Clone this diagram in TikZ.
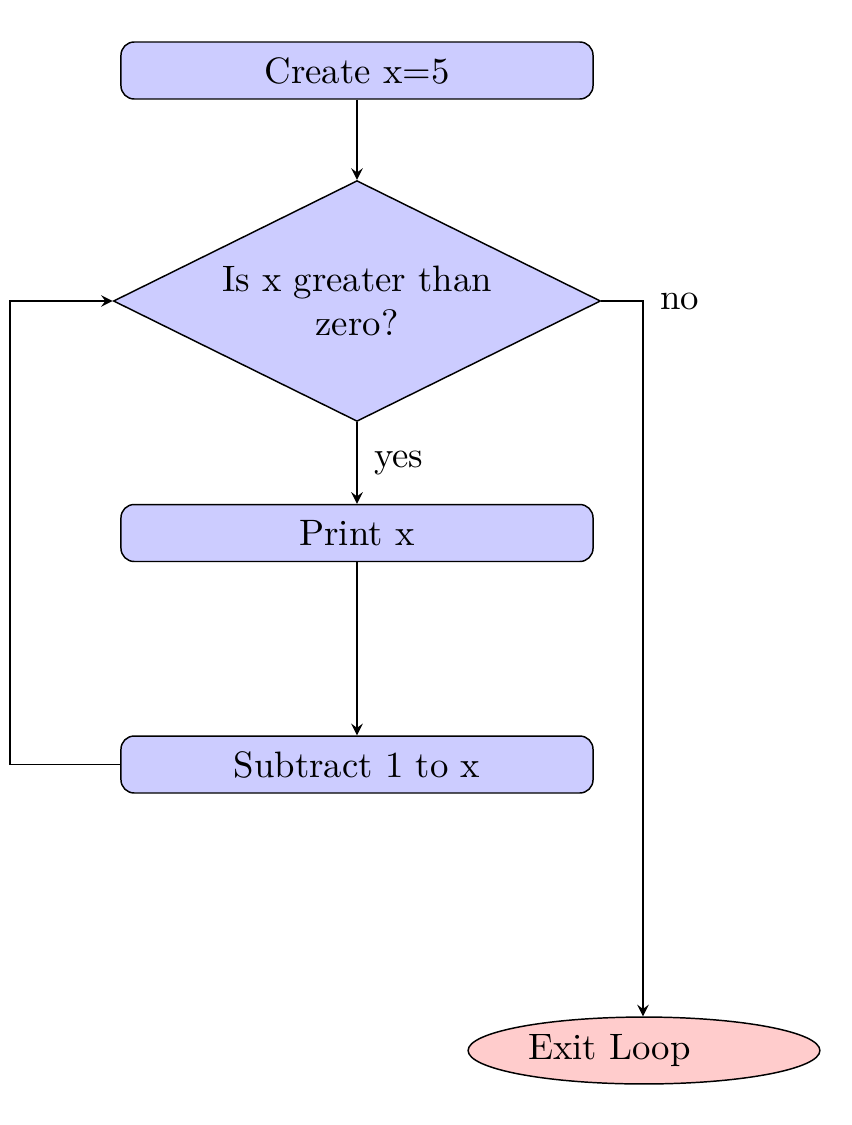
\documentclass[tikz,border=0pt]{standalone}
\usetikzlibrary{shapes.geometric,arrows}
\definecolor{boxblue}{RGB}{204,204,255}
\definecolor{boxred}{RGB}{255,204,204}
\begin{document}
\begin{tikzpicture}[x=0.272pt,y=-0.272pt,
  procbox/.style={rectangle,rounded corners=3.6pt,draw=black,fill=boxblue,minimum width=128.4pt,minimum height=15.5pt,inner sep=0pt},
  decbox/.style={diamond,draw=black,fill=boxblue,aspect=2,inner sep=0pt,align=center,minimum width=132.5pt,minimum height=65.5pt},
  endbox/.style={ellipse,draw=black,fill=boxred,inner sep=0pt,text width=63pt,align=left,minimum width=95.7pt,minimum height=18.2pt},
  conn/.style={draw=black,-stealth}]
\useasboundingbox (0,0) rectangle (852,1125);
\node[procbox] (create) at (357,70.5) {Create x=5};
\node[decbox] (dec) at (357,301) {Is x greater than\\ zero?};
\node[procbox] (print) at (357,533) {Print x};
\node[procbox] (sub) at (357,764.5) {Subtract 1 to x};
\node[endbox] (exit) at (644,1050.5) {Exit Loop};
\coordinate (lt) at (10,301);
\coordinate (lb) at (10,764.5);
\coordinate (rt) at (643,301);
\draw[conn] (create) -- (dec);
\draw[conn] (dec) -- node[right,xshift=1.1pt] (yes) {yes} (print);
\draw[conn] (print) -- (sub);
\draw[conn] (sub.west) -- (lb) -- (lt) -- (dec.west);
\draw[conn] (dec.east) -- (rt) node[right,xshift=1.1pt] (no) {no} -- (exit.north -| rt);
\end{tikzpicture}
\end{document}
